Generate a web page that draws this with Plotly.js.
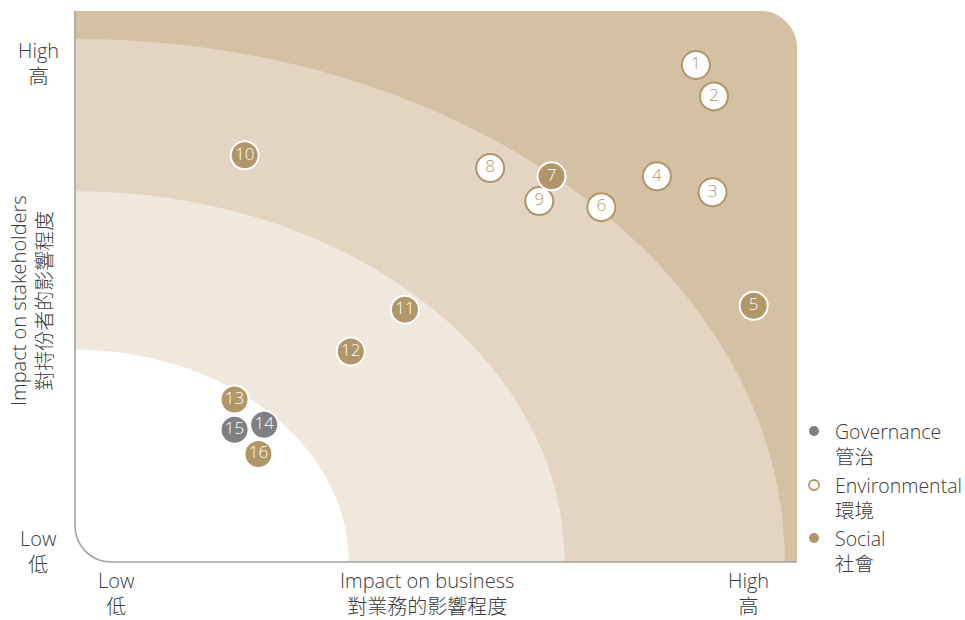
<!DOCTYPE html>
<html><head><meta charset="utf-8">
<script src="https://cdn.plot.ly/plotly-3.0.1.min.js"></script>
<style>html,body{margin:0;padding:0;background:#fff}#chart{width:965px;height:620px}</style>
</head><body><div id="chart"></div>
<script>
// Data (0-10 scale: impact on business, impact on stakeholders)
const govLabels = ["14","15"];
const govX = [2.62, 2.21];
const govY = [2.49, 2.40];

const envLabels = ["1","2","3","4","6","8","9"];
const envX = [8.60, 8.85, 8.83, 8.06, 7.29, 5.75, 6.43];
const envY = [9.02, 8.45, 6.71, 7.00, 6.44, 7.15, 6.55];

const socLabels = ["5","7","10","11","12","13","16"];
const socX = [9.40, 6.60, 2.35, 4.57, 3.82, 2.21, 2.54];
const socY = [4.65, 7.00, 7.38, 4.58, 3.82, 2.95, 1.96];

const bandRadiiX = [9.83, 6.78, 3.79];
const bandRadiiY = [9.49, 6.73, 3.85];
const bandColors = ["#e3d5c1", "#f1e8dd", "#ffffff"];

const legendNames = ["Governance", "Environmental", "Social"];
const legendNamesZh = ["管治", "環境", "社會"];

const GOLD = "#b09668", GREY = "#808084", DARK = "#d4c0a3";
const FONT = "'Open Sans', 'Noto Sans CJK TC', sans-serif";
const TXT = "#3a3a3a";

function quarter(rx, ry){
  const k = 0.5523;
  return `M 0,0 L ${rx},0 C ${rx},${k*ry} ${k*rx},${ry} 0,${ry} Z`;
}

const shapes = [];
const crx = 0.48, cry = 0.63, k=0.5523;
shapes.push({type:'path', xref:'x', yref:'y', layer:'below', line:{width:0}, fillcolor:DARK,
  path:`M 0,0 L 0,10 L ${10-crx},10 C ${10-crx+k*crx},10 10,${10-cry+ (1-k)*cry} 10,${10-cry} L 10,0 Z`});
bandRadiiX.forEach((rx,i)=>{
  shapes.push({type:'path', xref:'x', yref:'y', layer:'below', line:{width:0}, fillcolor:bandColors[i],
    path: quarter(rx, bandRadiiY[i])});
});
const arx = 0.05, ary = 0.066;
shapes.push({type:'path', xref:'paper', yref:'paper', layer:'above', line:{color:'#a3a3a3', width:1.6},
  path:`M 0,1 L 0,${ary} C 0,${(1-k)*ary} ${(1-k)*arx},0 ${arx},0 L 1,0`});

const legColors = [GREY, "#ffffff", GOLD];
const legY = [431, 485, 538];
const W=965,H=620, L=75, R=168, T=11, B=58;
const pw = W-L-R, ph = H-T-B;
function px2paperX(px){return (px-L)/pw;}
function px2paperY(py){return (H-B-py)/ph;}
legY.forEach((py,i)=>{
  const r=5;
  shapes.push({type:'circle', xref:'paper', yref:'paper', layer:'above',
    x0:px2paperX(814-r), x1:px2paperX(814+r), y0:px2paperY(py+r), y1:px2paperY(py-r),
    fillcolor:legColors[i], line:{color: i===1?GOLD:legColors[i], width: i===1?1.8:0}});
});

const annotations = [];
function ann(text, px, py, opts){
  annotations.push(Object.assign({text, xref:'paper', yref:'paper', x:px2paperX(px), y:px2paperY(py),
    showarrow:false, borderpad:0, font:{family: FONT, size: 20, color:TXT, weight:300},
    xanchor:'center', yanchor:'middle'}, opts||{}));
}
ann("High<br>高", 38, 63);
ann("Low<br>低", 38, 551);
ann("Low<br>低", 116, 621, {yanchor:'bottom'});
ann("High<br>高", 748, 621, {yanchor:'bottom'});
ann("Impact on business<br>對業務的影響程度", 427, 621, {yanchor:'bottom'});
ann("Impact on stakeholders<br>對持份者的影響程度", 31, 301, {textangle:-90});
legY.forEach((py,i)=>{
  ann(legendNames[i] + "<br>" + legendNamesZh[i], 834, py + 13,
    {xanchor:'left', align:'left', font:{family:FONT, size:19.5, color:TXT, weight:300}});
});

function trace(x,y,labels,fill,line,txt){
  return {type:'scatter', mode:'markers+text', x, y, text:labels, textposition:'middle center',
    cliponaxis:false, hoverinfo:'skip',
    textfont:{family:FONT, size:17, color:txt, weight:300},
    marker:{size:28, color:fill, line:{color:line, width:2}}};
}
const data = [
  trace(envX, envY, envLabels, "#ffffff", GOLD, GOLD),
  trace(socX, socY, socLabels, GOLD, "#ffffff", "#ffffff"),
  trace(govX, govY, govLabels, GREY, "#ffffff", "#ffffff"),
];

const layout = {
  width:W, height:H, margin:{l:L, r:R, t:T, b:B}, showlegend:false,
  paper_bgcolor:'#fff', plot_bgcolor:'rgba(0,0,0,0)',
  xaxis:{range:[0,10], showgrid:false, zeroline:false, showline:false, showticklabels:false, ticks:'', fixedrange:true},
  yaxis:{range:[0,10], showgrid:false, zeroline:false, showline:false, showticklabels:false, ticks:'', fixedrange:true},
  shapes, annotations
};
Plotly.newPlot('chart', data, layout, {displayModeBar:false, staticPlot:true});
</script></body></html>
